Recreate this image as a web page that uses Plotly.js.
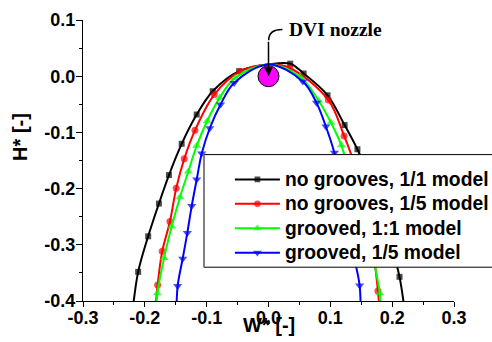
<!DOCTYPE html>
<html>
<head>
<meta charset="utf-8">
<script src="https://cdn.plot.ly/plotly-3.0.1.min.js"></script>
<style>html,body{margin:0;padding:0;background:#fff;}#chart{width:492px;height:342px;}</style>
</head>
<body>
<div id="chart"></div>
<script>
// ---- data (W*, H*) ----
const seriesNames = ['no grooves, 1/1 model', 'no grooves, 1/5 model', 'grooved, 1:1 model', 'grooved, 1/5 model'];

const blackW = [-0.2200, -0.2108, -0.1946, -0.1772, -0.1610, -0.1404, -0.1161, -0.0902, -0.0475, 0.0352, 0.0568, 0.0955, 0.1231, 0.1438, 0.1620, 0.1790, 0.1960, 0.2119, 0.2205];
const blackH = [-0.4200, -0.3482, -0.2849, -0.2266, -0.1759, -0.1203, -0.0682, -0.0267, 0.0089, 0.0223, 0.0048, -0.0340, -0.0869, -0.1300, -0.1760, -0.2280, -0.2900, -0.3570, -0.4200];

const redW = [-0.1840, -0.1793, -0.1719, -0.1594, -0.1492, -0.1362, -0.1189, -0.0876, -0.0459, 0.0344, 0.0968, 0.1223, 0.1360, 0.1490, 0.1590, 0.1700, 0.1770, 0.1810];
const redH = [-0.4300, -0.3714, -0.3116, -0.2587, -0.1992, -0.1469, -0.0963, -0.0326, 0.0084, 0.0146, -0.0424, -0.1063, -0.1470, -0.1990, -0.2590, -0.3180, -0.3824, -0.4300];

const greenW = [-0.1820, -0.1797, -0.1688, -0.1566, -0.1432, -0.1297, -0.1161, -0.0994, -0.0791, -0.0540, 0.0506, 0.0811, 0.1009, 0.1179, 0.1300, 0.1430, 0.1570, 0.1690, 0.1800, 0.1820];
const greenH = [-0.4300, -0.3863, -0.3233, -0.2676, -0.2156, -0.1697, -0.1237, -0.0801, -0.0385, -0.0030, -0.0005, -0.0436, -0.0824, -0.1230, -0.1700, -0.2160, -0.2680, -0.3230, -0.3860, -0.4300];

const blueW = [-0.1490, -0.1469, -0.1388, -0.1313, -0.1242, -0.1161, -0.1080, -0.0950, -0.0775, -0.0556, 0.0555, 0.0777, 0.0928, 0.1066, 0.1160, 0.1240, 0.1310, 0.1390, 0.1474, 0.1490];
const blueH = [-0.4300, -0.3732, -0.3246, -0.2788, -0.2311, -0.1839, -0.1376, -0.0926, -0.0504, -0.0121, -0.0094, -0.0474, -0.0895, -0.1364, -0.1840, -0.2310, -0.2790, -0.3250, -0.3726, -0.4300];

// common apex of all curves (line passes through, no marker)
const apexW = [0.0];
const apexH = [0.021];

// DVI nozzle position
const nozzleW = [0.0];
const nozzleH = [0.0];

const xTicks = [-0.3, -0.2, -0.1, 0.0, 0.1, 0.2, 0.3];
const xTickLabels = ['-0.3', '-0.2', '-0.1', '0.0', '0.1', '0.2', '0.3'];
const yTicks = [0.1, 0.0, -0.1, -0.2, -0.3, -0.4];
const yTickLabels = ['0.1', '0.0', '-0.1', '-0.2', '-0.3', '-0.4'];

// ---- build ----
function withApex(W, H) {
  const pts = W.map((w, i) => ({x: w, y: H[i], apex: false}));
  pts.push({x: apexW[0], y: apexH[0], apex: true});
  pts.sort((a, b) => a.x - b.x);
  return pts;
}
const bold = t => '<b>' + t + '</b>';

const styles = [
  {color: '#000000', symbol: 'square', size: 6},
  {color: '#FF0000', symbol: 'circle', size: 7},
  {color: '#00FF00', symbol: 'triangle-up', size: 8},
  {color: '#0000FF', symbol: 'triangle-down', size: 8}
];
const allW = [blackW, redW, greenW, blueW];
const allH = [blackH, redH, greenH, blueH];

const SANS = 'Liberation Sans, Arial, sans-serif';
const SERIF = 'Liberation Serif, Times New Roman, serif';

const traces = [{
  x: nozzleW, y: nozzleH, mode: 'markers', showlegend: false, hoverinfo: 'skip',
  marker: {symbol: 'circle', size: 21, color: '#FF00FF', line: {color: '#000000', width: 1}}
}];

allW.forEach((W, k) => {
  const pts = withApex(W, allH[k]);
  const st = styles[k];
  traces.push({
    x: pts.map(p => p.x), y: pts.map(p => p.y),
    name: '<span style="font-size:19.3px">' + bold(seriesNames[k]) + '</span>', mode: 'lines+markers',
    line: {color: st.color, width: 2, shape: 'spline', smoothing: 1},
    marker: {symbol: st.symbol, color: st.color, size: pts.map(p => p.apex ? 0 : st.size), line: {width: 0}}
  });
});

const layout = {
  width: 492, height: 342,
  margin: {l: 83, r: 38, t: 20, b: 41, pad: 0, autoexpand: false},
  paper_bgcolor: '#ffffff', plot_bgcolor: '#ffffff',
  font: {family: SANS, size: 18, color: '#000000', weight: 'bold'},
  showlegend: true,
  xaxis: {
    range: [-0.3, 0.3], tickmode: 'array', tickvals: xTicks, ticktext: xTickLabels.map(bold),
    showgrid: false, zeroline: false, showline: true, linecolor: '#000', linewidth: 1, mirror: false,
    ticks: 'outside', ticklen: 5, tickwidth: 1, tickcolor: '#000', ticklabelstandoff: -5,
    tickfont: {family: SANS, size: 18, weight: 'bold', color: '#000'},
    minor: {dtick: 0.05, tick0: 0, ticks: 'outside', ticklen: 3, tickwidth: 1, tickcolor: '#000', showgrid: false}
  },
  yaxis: {
    range: [-0.4, 0.1], tickmode: 'array', tickvals: yTicks, ticktext: yTickLabels.map(bold),
    showgrid: false, zeroline: false, showline: true, linecolor: '#000', linewidth: 1, mirror: false,
    ticks: 'outside', ticklen: 6, tickwidth: 1, tickcolor: '#000', ticklabelstandoff: -3,
    tickfont: {family: SANS, size: 18, weight: 'bold', color: '#000'},
    minor: {dtick: 0.05, tick0: 0, ticks: 'outside', ticklen: 3, tickwidth: 1, tickcolor: '#000', showgrid: false}
  },
  legend: {
    x: 0.396, y: 0.494, xanchor: 'left', yanchor: 'top',
    bgcolor: 'rgba(0,0,0,0)', borderwidth: 0,
    font: {family: SANS, size: 16.5, weight: 'bold', color: '#000'},
    itemwidth: 45, tracegroupgap: 0
  },
  shapes: [
    {type: 'rect', xref: 'paper', yref: 'paper', x0: 0.3261, x1: 1.25, y0: 0.1203, y1: 0.521,
     fillcolor: '#ffffff', line: {color: '#000000', width: 1}, layer: 'above'},
    {type: 'line', xref: 'paper', yref: 'paper', x0: 0.3261, x1: 0.3261, y0: 0.1203, y1: 0.521,
     line: {color: '#808080', width: 2}, layer: 'above'},
    {type: 'path', xref: 'x', yref: 'y', path: 'M 0.0003,0.0640 Q 0.0003,0.0831 0.0225,0.0831',
     line: {color: '#000000', width: 1.5}, layer: 'above'}
  ],
  annotations: [
    {xref: 'paper', yref: 'paper', x: -0.1698, y: 0.584, text: bold('H* [-]'), showarrow: false, textangle: -90,
     xanchor: 'center', yanchor: 'middle', font: {family: SANS, size: 20, weight: 'bold', color: '#000'}},
    {xref: 'paper', yref: 'paper', x: 0.5005, y: -0.0867, text: bold('W* [-]'), showarrow: false,
     xanchor: 'center', yanchor: 'middle', font: {family: SANS, size: 20, weight: 'bold', color: '#000'}},
    {xref: 'x', yref: 'y', x: 0.108, y: 0.0831, text: bold('DVI nozzle'), showarrow: false,
     xanchor: 'center', yanchor: 'middle', font: {family: SERIF, size: 19.5, weight: 'bold', color: '#000'}},
    {xref: 'x', yref: 'y', x: 0, y: 0, text: '', showarrow: true, ax: 0, ay: -36, axref: 'pixel', ayref: 'pixel',
     arrowhead: 2, arrowsize: 1.2, arrowwidth: 1.5, arrowcolor: '#000', standoff: 0, startstandoff: 0}
  ]
};

Plotly.newPlot('chart', traces, layout, {displayModeBar: false, staticPlot: true});
</script>
</body>
</html>
